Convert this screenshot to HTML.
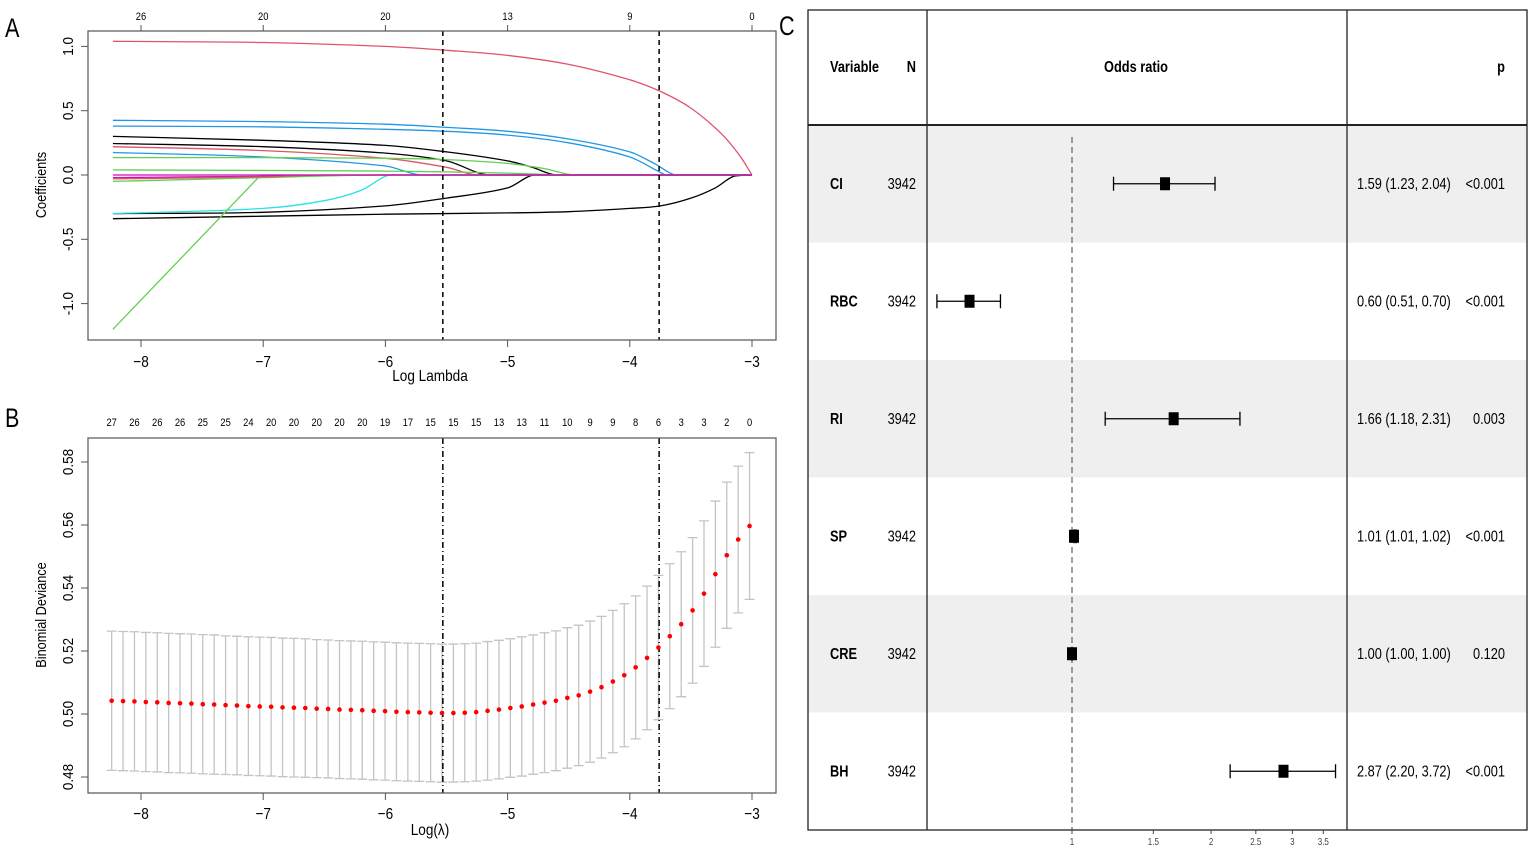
<!DOCTYPE html>
<html><head><meta charset="utf-8"><style>
html,body{margin:0;padding:0;background:#fff;}
svg{display:block;font-family:"Liberation Sans",sans-serif;}
</style></head><body>
<svg id="fig" width="1535" height="851" viewBox="0 0 1535 851" xmlns="http://www.w3.org/2000/svg">
<rect width="1535" height="851" fill="#fff"/>
<text x="5" y="37" font-size="27" font-weight="300" transform="translate(5,0) scale(0.8,1) translate(-5,0)">A</text>
<text x="5" y="427" font-size="27" font-weight="300" transform="translate(5,0) scale(0.8,1) translate(-5,0)">B</text>
<text x="779" y="35" font-size="27" font-weight="300" transform="translate(779,0) scale(0.8,1) translate(-779,0)">C</text>
<g id="pa"></g>
<g id="pb"></g>
<g id="pc"></g>
</svg>
<script>
// ---------- Panel A data ----------
const aXTicks = [-8, -7, -6, -5, -4, -3];
const aYTicks = [1.0, 0.5, 0.0, -0.5, -1.0];
const aYTickLabels = ["1.0", "0.5", "0.0", "-0.5", "-1.0"];
const aTopLabels = ["26", "20", "20", "13", "9", "0"];
const cutoffs = [-5.53, -3.76];
const pathColors = ["#DF536B","#2297E6","#2297E6","#000000","#000000","#DF536B","#2297E6","#61D04F","#61D04F","#000000","#000000","#28E2E5","#61D04F","#CD0BBC","#61D04F","#DF536B","#CD0BBC"];
const pathLambda = [
 [-8.23,-7,-6,-5.5,-5,-4.5,-4,-3.75,-3.5,-3.25,-3.1,-3.0],
 [-8.23,-7,-6,-5.5,-5,-4.5,-4,-3.8,-3.62,-3.0],
 [-8.23,-7,-6,-5.5,-5,-4.5,-4,-3.75,-3.7,-3.0],
 [-8.23,-7,-6,-5.5,-5,-4.8,-4.6,-3.0],
 [-8.23,-7,-6,-5.5,-5.15,-3.0],
 [-8.23,-7,-6,-5.5,-5.25,-3.0],
 [-8.23,-7,-6,-5.7,-3.0],
 [-8.23,-7,-6,-5.5,-5,-4.7,-4.45,-3.0],
 [-8.23,-6,-5,-4.5,-3.0],
 [-8.23,-7,-6,-5.5,-5,-4.78,-3.0],
 [-8.23,-7,-6,-5,-4.5,-4,-3.75,-3.5,-3.3,-3.15,-3.0],
 [-8.23,-7,-6.5,-6.2,-5.95,-3.0],
 [-8.23,-7.02,-3.0],
 [-8.23,-7,-6,-3.0],
 [-8.23,-7,-6,-3.0],
 [-8.23,-7,-6.5,-3.0],
 [-8.23,-3.0]
];
const pathCoef = [
 [1.04,1.03,1.0,0.97,0.93,0.86,0.74,0.65,0.52,0.32,0.15,0],
 [0.425,0.415,0.395,0.37,0.34,0.28,0.18,0.09,0,0],
 [0.38,0.375,0.355,0.34,0.31,0.25,0.14,0.02,0,0],
 [0.30,0.27,0.23,0.18,0.11,0.06,0,0],
 [0.245,0.22,0.17,0.11,0,0],
 [0.22,0.19,0.13,0.06,0,0],
 [0.175,0.14,0.07,0,0],
 [0.135,0.135,0.13,0.12,0.09,0.05,0,0],
 [0.04,0.03,0.015,0,0],
 [-0.30,-0.29,-0.24,-0.18,-0.10,0,0],
 [-0.34,-0.32,-0.305,-0.295,-0.285,-0.26,-0.24,-0.18,-0.10,-0.01,0],
 [-0.30,-0.26,-0.20,-0.12,0,0],
 [-1.2,0,0],
 [-0.02,-0.01,0,0],
 [-0.05,-0.02,0,0],
 [-0.03,-0.015,0,0],
 [0,0]
];
// ---------- Panel B data ----------
const bMean = [0.5042,0.5041,0.504,0.5038,0.5037,0.5035,0.5034,0.5033,0.5031,0.503,0.5028,0.5027,0.5025,0.5024,0.5023,0.5021,0.502,0.5019,0.5017,0.5016,0.5014,0.5013,0.5012,0.501,0.5009,0.5007,0.5006,0.5005,0.5004,0.5003,0.5003,0.5004,0.5006,0.501,0.5014,0.5019,0.5024,0.503,0.5036,0.5042,0.5051,0.5059,0.5071,0.5085,0.5103,0.5123,0.5148,0.5178,0.5211,0.5247,0.5285,0.5329,0.5382,0.5444,0.5504,0.5554,0.5597];
const bSE = [0.0221,0.0221,0.0221,0.0221,0.0221,0.0221,0.0221,0.0221,0.0221,0.0221,0.0220,0.0220,0.0220,0.0220,0.0220,0.0220,0.0220,0.0220,0.0219,0.0219,0.0219,0.0219,0.0219,0.0219,0.0219,0.0219,0.0219,0.0219,0.0219,0.0219,0.0219,0.0219,0.0219,0.0220,0.0220,0.0220,0.0221,0.0221,0.0222,0.0222,0.0223,0.0223,0.0224,0.0225,0.0226,0.0227,0.0227,0.0228,0.0229,0.0230,0.0230,0.0231,0.0231,0.0232,0.0232,0.0233,0.0233];
const bLambdaStart = -8.24, bLambdaEnd = -3.02;
const bYTicks = [0.48, 0.50, 0.52, 0.54, 0.56, 0.58];
const bYTickLabels = ["0.48","0.50","0.52","0.54","0.56","0.58"];
const bTopLabels = ["27","26","26","26","25","25","24","20","20","20","20","20","19","17","15","15","15","13","13","11","10","9","9","8","6","3","3","2","0"];
// ---------- Panel C data ----------
const fVars = ["CI","RBC","RI","SP","CRE","BH"];
const fN = ["3942","3942","3942","3942","3942","3942"];
const fOR = [1.59,0.60,1.66,1.01,1.00,2.87];
const fLow = [1.23,0.51,1.18,1.01,1.00,2.20];
const fHigh = [2.04,0.70,2.31,1.02,1.00,3.72];
const fP = ["<0.001","<0.001","0.003","<0.001","0.120","<0.001"];
const fTicks = [1,1.5,2,2.5,3,3.5];
const fTickLabels = ["1","1.5","2","2.5","3","3.5"];

const NS="http://www.w3.org/2000/svg";
function mk(parent,tag,attrs,text){const e=document.createElementNS(NS,tag);for(const k in attrs)e.setAttribute(k,attrs[k]);if(text!==undefined)e.textContent=text;parent.appendChild(e);return e;}
function ct(parent,x,y,size,anchor,str,sx,extra){
 const a={x:0,y:0,'font-size':size,'text-anchor':anchor,transform:`translate(${x},${y}) scale(${sx},1)`};
 if(extra)Object.assign(a,extra);
 return mk(parent,'text',a,str);
}

const xL = v => 141 + (v + 8) * 122.2;
const clamp=(v,a,b)=>Math.min(Math.max(v,Math.min(a,b)),Math.max(a,b));

function smoothPath(px,py){
 let d=`M${px[0].toFixed(1)},${py[0].toFixed(1)}`;
 for(let i=0;i<px.length-1;i++){
  const j0=Math.max(i-1,0),j3=Math.min(i+2,px.length-1);
  const x0=px[j0],y0=py[j0],x1=px[i],y1=py[i],x2=px[i+1],y2=py[i+1],x3=px[j3],y3=py[j3];
  // slopes
  const s1=(y2-y0)/((x2-x0)||1), s2=(y3-y1)/((x3-x1)||1);
  const h=(x2-x1)/3;
  let c1y=clamp(y1+s1*h,y1,y2), c2y=clamp(y2-s2*h,y1,y2);
  d+=` C${(x1+h).toFixed(1)},${c1y.toFixed(1)} ${(x2-h).toFixed(1)},${c2y.toFixed(1)} ${x2.toFixed(1)},${y2.toFixed(1)}`;
 }
 return d;
}

// ---------- Panel A ----------
(function(){
 const g=document.getElementById('pa');
 const yA = c => 175 - c * 128.6;
 const L=88,R=776,T=31,B=340;
 for(let p=0;p<pathCoef.length;p++){
  const px=pathLambda[p].map(xL),py=pathCoef[p].map(yA);
  const e=mk(g,'path',{d:p===12?`M${px[0]},${py[0]}L${px[1]},${py[1]}L${px[2]},${py[2]}`:smoothPath(px,py),fill:'none',stroke:pathColors[p],'stroke-width':1.3});
  
  
 }
 cutoffs.forEach((c,i)=>{const e=mk(g,'line',{x1:xL(c),x2:xL(c),y1:T,y2:B,stroke:'#000','stroke-width':1.5,'stroke-dasharray':'5,4'});
  
  });
 const box=mk(g,'rect',{x:L,y:T,width:R-L,height:B-T,fill:'none',stroke:'#555','stroke-width':1.2});
 
 
 aXTicks.forEach((v,i)=>{
  mk(g,'line',{x1:xL(v),x2:xL(v),y1:B,y2:B+7,stroke:'#555'});
  const t=ct(g,xL(v),B+27,16,'middle',String(v).replace('-','−'),0.85);
  
  
  mk(g,'line',{x1:xL(v),x2:xL(v),y1:T,y2:T-6,stroke:'#555'});
  const u=ct(g,xL(v),T-11,11,'middle',aTopLabels[i],0.85);
  
  
 });
 aYTicks.forEach((v,i)=>{
  mk(g,'line',{x1:L,x2:L-7,y1:yA(v),y2:yA(v),stroke:'#555'});
  const t=mk(g,'text',{x:0,y:0,'font-size':15,'text-anchor':'middle',transform:`translate(73,${yA(v)}) rotate(-90) scale(0.9,1)`},aYTickLabels[i]);
  
  
 });
 const xt=ct(g,430,381,16,'middle','Log Lambda',0.85);
 
 
 const yt=mk(g,'text',{x:0,y:0,'font-size':15,'text-anchor':'middle',transform:'translate(46,185) rotate(-90) scale(0.85,1)'},'Coefficients');
 
 
})();

// ---------- Panel B ----------
(function(){
 const g=document.getElementById('pb');
 const yB = d => 714 - (d - 0.5) * 3150;
 const L=88,R=776,T=438,B=793;
 const n=bMean.length;
 const lam=i=>bLambdaStart+(bLambdaEnd-bLambdaStart)*i/(n-1);
 for(let i=0;i<n;i++){
  const x=xL(lam(i)),up=yB(bMean[i]+bSE[i]),lo=yB(bMean[i]-bSE[i]);
  const e=mk(g,'path',{d:`M${x},${up}V${lo}M${x-5},${up}H${x+5}M${x-5},${lo}H${x+5}`,stroke:'#c4c4c4','stroke-width':1.3,fill:'none'});
  
  
 }
 cutoffs.forEach((c,i)=>{const e=mk(g,'line',{x1:xL(c),x2:xL(c),y1:T,y2:B,stroke:'#000','stroke-width':1.5,'stroke-dasharray':'6,3,1,3'});
  
  });
 for(let i=0;i<n;i++){
  const e=mk(g,'circle',{cx:xL(lam(i)),cy:yB(bMean[i]),r:2.3,fill:'#ff0000'});
  
  
 }
 const box=mk(g,'rect',{x:L,y:T,width:R-L,height:B-T,fill:'none',stroke:'#555','stroke-width':1.2});
 
 
 aXTicks.forEach(v=>{
  mk(g,'line',{x1:xL(v),x2:xL(v),y1:B,y2:B+7,stroke:'#555'});
  const t=ct(g,xL(v),B+26,16,'middle',String(v).replace('-','−'),0.85);
  
  
 });
 const m=bTopLabels.length;
 bTopLabels.forEach((s,k)=>{
  const t=ct(g,xL(bLambdaStart+(bLambdaEnd-bLambdaStart)*k/(m-1)),426,11,'middle',s,0.85);
  
  
 });
 bYTicks.forEach((v,i)=>{
  mk(g,'line',{x1:L,x2:L-7,y1:yB(v),y2:yB(v),stroke:'#555'});
  const t=mk(g,'text',{x:0,y:0,'font-size':15,'text-anchor':'middle',transform:`translate(73,${yB(v)}) rotate(-90) scale(0.9,1)`},bYTickLabels[i]);
  
  
 });
 const xt=ct(g,430,835,16,'middle','Log(λ)',0.85);
 
 
 const yt=mk(g,'text',{x:0,y:0,'font-size':15,'text-anchor':'middle',transform:'translate(46,615) rotate(-90) scale(0.85,1)'},'Binomial Deviance');
 
 
})();

// ---------- Panel C ----------
(function(){
 const g=document.getElementById('pc');
 const xF = v => 1072 + Math.log(v) * 200.6;
 const L=808,R=1527,T=10,H=125,B=830,rowH=(B-H)/fVars.length;
 const SX=0.8;
 fVars.forEach((v,i)=>{
  if(i%2===0){const r=mk(g,'rect',{x:L,y:H+i*rowH,width:R-L,height:rowH,fill:'#efefef'});
   
   }
 });
 const dl=mk(g,'line',{x1:xF(1),x2:xF(1),y1:H+12,y2:B,stroke:'#444','stroke-width':1,'stroke-dasharray':'6,4'});
 
 
 [['Variable',830,'start','header-variable'],['N',916,'end','header-n'],['Odds ratio',1136,'middle','header-odds-ratio'],['p',1505,'end','header-p']].forEach(h=>{
  const t=ct(g,h[1],72,16,h[2],h[0],SX,{'font-weight':'bold'});
  
  
 });
 fVars.forEach((v,i)=>{
  const cy=H+rowH*(i+0.5);
  const a=ct(g,830,cy+5,16,'start',v,SX,{'font-weight':'bold'});
  
  
  const b=ct(g,916,cy+5,16,'end',fN[i],SX);
  
  
  const ci=mk(g,'path',{d:`M${xF(fLow[i])},${cy}H${xF(fHigh[i])}M${xF(fLow[i])},${cy-7}V${cy+7}M${xF(fHigh[i])},${cy-7}V${cy+7}`,stroke:'#000','stroke-width':1.3,fill:'none'});
  
  
  const sq=mk(g,'rect',{x:xF(fOR[i])-5,y:cy-6.5,width:10,height:13,fill:'#000'});
  
  
  const o=ct(g,1357,cy+5,16,'start',`${fOR[i].toFixed(2)} (${fLow[i].toFixed(2)}, ${fHigh[i].toFixed(2)})`,SX);
  
  
  const p=ct(g,1505,cy+5,16,'end',fP[i],SX);
  
  
 });
 const fr=mk(g,'rect',{x:L,y:T,width:R-L,height:B-T,fill:'none',stroke:'#222','stroke-width':1.3});
 
 
 mk(g,'line',{x1:L,x2:R,y1:H,y2:H,stroke:'#222','stroke-width':2});
 mk(g,'line',{x1:927,x2:927,y1:T,y2:B,stroke:'#222','stroke-width':1.3});
 mk(g,'line',{x1:1347,x2:1347,y1:T,y2:B,stroke:'#222','stroke-width':1.3});
 fTicks.forEach((v,i)=>{
  mk(g,'line',{x1:xF(v),x2:xF(v),y1:B,y2:B+4,stroke:'#444'});
  const t=ct(g,xF(v),845,10,'middle',fTickLabels[i],0.8,{fill:'#444'});
  
  
 });
})();
</script>
</body></html>
